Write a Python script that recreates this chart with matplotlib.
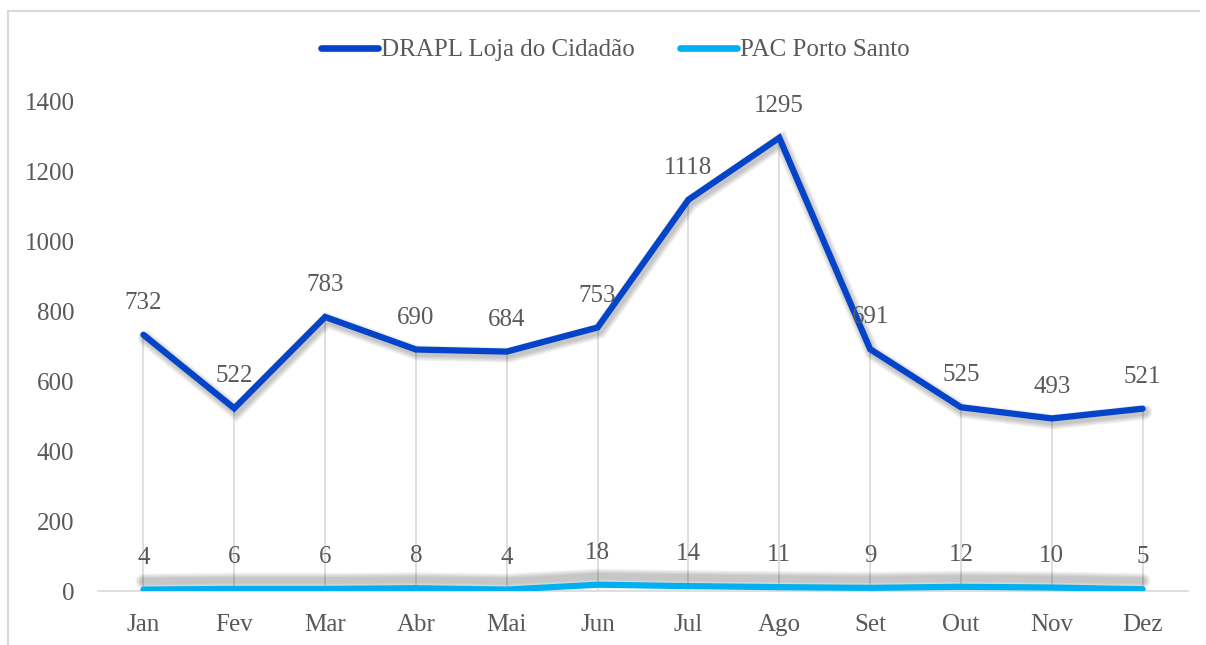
import matplotlib
matplotlib.use("Agg")
import matplotlib.pyplot as plt
import matplotlib.patheffects as pe
from matplotlib.lines import Line2D

months = ["Jan", "Fev", "Mar", "Abr", "Mai", "Jun", "Jul", "Ago", "Set", "Out", "Nov", "Dez"]
drapl = [732, 522, 783, 690, 684, 753, 1118, 1295, 691, 525, 493, 521]
pac = [4, 6, 6, 8, 4, 18, 14, 11, 9, 12, 10, 5]
series_names = ["DRAPL Loja do Cidadão", "PAC Porto Santo"]
yticks = [0, 200, 400, 600, 800, 1000, 1200, 1400]

plt.rcParams['font.family'] = ['Liberation Serif', 'DejaVu Serif']
TXT = '#595959'
DARK = '#0444C8'
LIGHT = '#00B0F0'
FS = 18

fig = plt.figure(figsize=(12.06, 6.45), dpi=100)
# chart border (light grey)
fig.add_artist(Line2D([8/1206, 8/1206], [0, 1 - 11/645], color='#d9d9d9', lw=1.5, transform=fig.transFigure))
fig.add_artist(Line2D([8/1206, 1199/1206], [1 - 11/645, 1 - 11/645], color='#d9d9d9', lw=1.5, transform=fig.transFigure))

ax = fig.add_axes([98/1206, 54/645, 1090/1206, 490/645])
x = list(range(len(months)))

# drop lines
ax.vlines(x, 0, [max(a, b) for a, b in zip(drapl, pac)], color='#d9d9d9', lw=1.2, zorder=1)

def shadow(off):
    return [pe.SimpleLineShadow(offset=off, shadow_color='black', alpha=0.06, linewidth=w)
            for w in (11, 9, 7, 5)] + [pe.Normal()]

ax.plot(x, drapl, color=DARK, lw=4.5, solid_capstyle='round', solid_joinstyle='miter',
        path_effects=shadow((1.5, -2.5)), zorder=3, label=series_names[0])
ax.plot(x, pac, color=LIGHT, lw=4.5, solid_capstyle='round', solid_joinstyle='miter',
        path_effects=shadow((0, 6)), zorder=3, label=series_names[1])

for xi, v in zip(x, drapl):
    ax.annotate(str(v), (xi, v), xytext=(0, 23), textcoords='offset points',
                ha='center', va='center', fontsize=FS, color=TXT, clip_on=False, zorder=5)
for xi, v in zip(x, pac):
    ax.annotate(str(v), (xi, v), xytext=(0, 23), textcoords='offset points',
                ha='center', va='center', fontsize=FS, color=TXT, clip_on=False, zorder=5)

ax.set_xlim(-0.5, 11.5)
ax.set_ylim(0, 1400)
ax.set_xticks(x)
ax.set_xticklabels(months)
ax.set_yticks(yticks)
ax.set_yticklabels([str(t) for t in yticks])
ax.tick_params(axis='both', length=0, labelsize=FS, labelcolor=TXT)
ax.tick_params(axis='x', pad=16.5)
ax.tick_params(axis='y', pad=17)
for s in ['top', 'right', 'left']:
    ax.spines[s].set_visible(False)
ax.spines['bottom'].set_color('#d9d9d9')
ax.spines['bottom'].set_linewidth(1.2)
ax.spines['bottom'].set_zorder(0)

leg = fig.legend(loc='center', bbox_to_anchor=(615/1206, 1 - 50/645), ncol=2, frameon=False,
                 fontsize=FS, handlelength=2.3, handletextpad=0.1, columnspacing=1.8)
for t in leg.get_texts():
    t.set_color(TXT)
for h in leg.get_lines():
    h.set_linewidth(4.8)
    h.set_path_effects([])

fig.savefig('out.png', dpi=100, facecolor='white')
